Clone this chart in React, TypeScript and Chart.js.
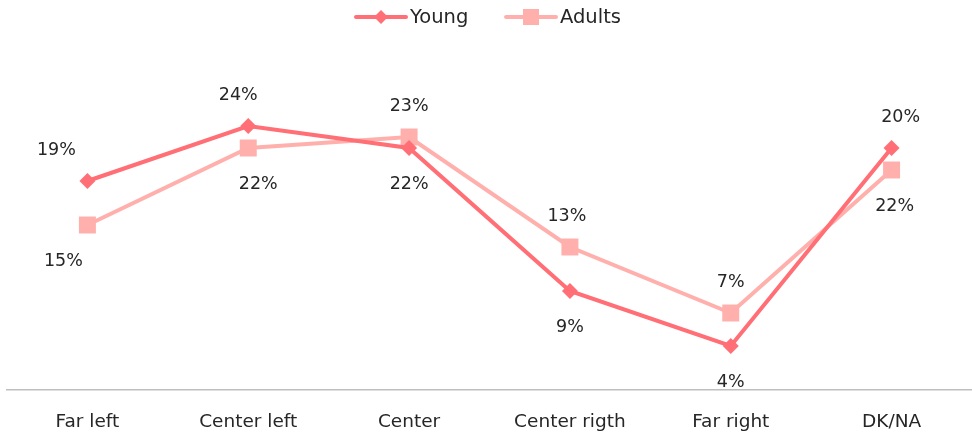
import React, { useEffect, useRef } from "react";
import { Chart, registerables } from "chart.js";

Chart.register(...registerables);

const categories = ["Far left", "Center left", "Center", "Center rigth", "Far right", "DK/NA"];
const youngValues = [19, 24, 22, 9, 4, 22];
const adultsValues = [15, 22, 23, 13, 7, 20];
const youngLabels = ["19%", "24%", "22%", "9%", "4%", "22%"];
const adultsLabels = ["15%", "22%", "23%", "13%", "7%", "20%"];
// which side of the point group each series' label sits on
const youngSides = ["above", "above", "below", "below", "below", "below"];
const adultsSides = ["below", "below", "above", "above", "above", "above"];

const YOUNG_COLOR = "#FF6F75";
const ADULTS_COLOR = "#FFB0AC";
const FONT = "'DejaVu Sans', sans-serif";
const TEXT_COLOR = "#262626";

const labelDx: Record<string, number[]> = {
  young: [-31, -10, 0, 0, 0, 3],
  adults: [-24, 10, 0, -3, 0, 9],
};

const labelPlugin = {
  id: "pointLabels",
  afterDatasetsDraw(chart: any) {
    const ctx = chart.ctx;
    const metas = [chart.getDatasetMeta(0), chart.getDatasetMeta(1)];
    const texts = [youngLabels, adultsLabels];
    const sides = [youngSides, adultsSides];
    const keys = ["young", "adults"];
    ctx.save();
    ctx.font = `17.5px ${FONT}`;
    ctx.fillStyle = TEXT_COLOR;
    ctx.textAlign = "center";
    ctx.textBaseline = "middle";
    for (let i = 0; i < categories.length; i++) {
      const ys = metas.map((m) => m.data[i].y);
      const top = Math.min(...ys);
      const bottom = Math.max(...ys);
      metas.forEach((m, s) => {
        const x = m.data[i].x + labelDx[keys[s]][i];
        const y = sides[s][i] === "above" ? top - 31 : bottom + 36;
        ctx.fillText(texts[s][i], x, y);
      });
    }
    ctx.restore();
  },
};

const legendPlugin = {
  id: "customLegend",
  afterDraw(chart: any) {
    const ctx = chart.ctx;
    const items = [
      { text: "Young", color: YOUNG_COLOR, style: "diamond", x: 356 },
      { text: "Adults", color: ADULTS_COLOR, style: "square", x: 506 },
    ];
    const y = 17;
    ctx.save();
    ctx.font = `19.5px ${FONT}`;
    ctx.textBaseline = "middle";
    ctx.textAlign = "left";
    for (const it of items) {
      ctx.strokeStyle = it.color;
      ctx.lineWidth = 4;
      ctx.lineCap = "round";
      ctx.beginPath();
      ctx.moveTo(it.x, y);
      ctx.lineTo(it.x + 50, y);
      ctx.stroke();
      ctx.fillStyle = it.color;
      const cx = it.x + 25;
      if (it.style === "diamond") {
        ctx.beginPath();
        ctx.moveTo(cx, y - 7);
        ctx.lineTo(cx + 7, y);
        ctx.lineTo(cx, y + 7);
        ctx.lineTo(cx - 7, y);
        ctx.closePath();
        ctx.fill();
      } else {
        ctx.fillRect(cx - 8, y - 8, 16, 16);
      }
      ctx.fillStyle = TEXT_COLOR;
      ctx.fillText(it.text, it.x + 54, y + 1);
    }
    ctx.restore();
  },
};

export default function App() {
  const ref = useRef<HTMLCanvasElement | null>(null);
  useEffect(() => {
    document.body.style.margin = "0";
    const chart = new Chart(ref.current as HTMLCanvasElement, {
      type: "line",
      data: {
        labels: categories,
        datasets: [
          {
            label: "Young",
            data: youngValues,
            borderColor: YOUNG_COLOR,
            backgroundColor: YOUNG_COLOR,
            borderWidth: 4,
            pointStyle: "rectRot",
            pointRadius: 8,
            pointBorderWidth: 0,
            tension: 0,
          },
          {
            label: "Adults",
            data: adultsValues,
            borderColor: ADULTS_COLOR,
            backgroundColor: ADULTS_COLOR,
            borderWidth: 4,
            pointStyle: "rect",
            pointRadius: 12,
            pointBorderWidth: 0,
            tension: 0,
          },
        ],
      },
      options: {
        responsive: false,
        animation: false,
        layout: { autoPadding: false, padding: { top: 60, left: 7, right: 0, bottom: 0 } },
        plugins: { legend: { display: false }, tooltip: { enabled: false } },
        scales: {
          x: {
            offset: true,
            grid: { display: false, drawTicks: false },
            border: { display: true, color: "#BFBFBF", width: 1.5 },
            ticks: { color: TEXT_COLOR, font: { family: FONT, size: 18.5 }, padding: 21 },
            afterFit: (scale: any) => {
              scale.height = 47;
              scale.paddingLeft = 0;
              scale.paddingRight = 0;
            },
          },
          y: { display: false, min: 0, max: 30 },
        },
      },
      plugins: [labelPlugin, legendPlugin],
    });
    return () => chart.destroy();
  }, []);
  return (
    <div style={{ width: 972, height: 437 }}>
      <canvas ref={ref} width={972} height={437} />
    </div>
  );
}
